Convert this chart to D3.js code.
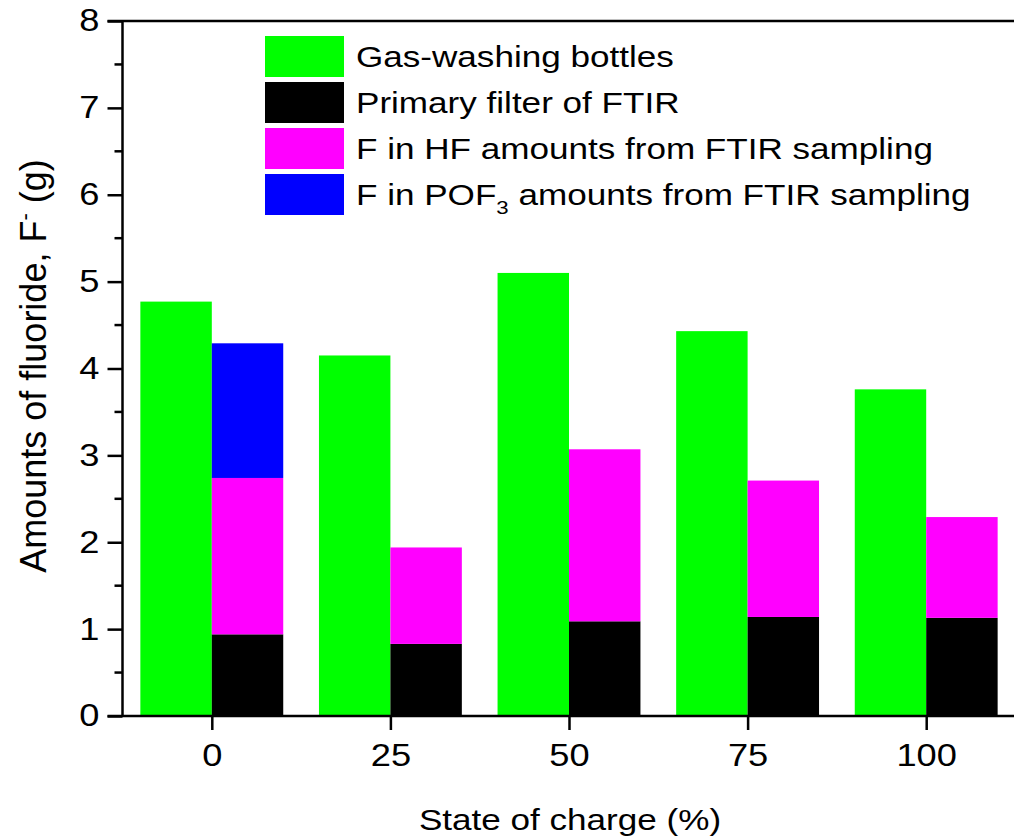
<!DOCTYPE html>
<html>
<head>
<meta charset="utf-8">
<script src="https://cdn.jsdelivr.net/npm/d3@7"></script>
<style>
  html, body { margin: 0; padding: 0; background: #fff; }
  svg { display: block; }
  text { font-family: "Liberation Sans", Arial, sans-serif; fill: #000; }
</style>
</head>
<body>
<svg id="chart" width="1014" height="836"></svg>
<script>
// State of charge (%) for each test
const stateOfCharge = [0, 25, 50, 75, 100];

// Fluoride amounts (g)
const gasWashing = [4.77, 4.15, 5.10, 4.43, 3.76];
const primaryFilter = [0.94, 0.83, 1.09, 1.14, 1.13];
const hfSampling = [1.80, 1.11, 1.98, 1.57, 1.16];
const pof3Sampling = [1.55, 0, 0, 0, 0];

const seriesNames = [
  "Gas-washing bottles",
  "Primary filter of FTIR",
  "F in HF amounts from FTIR sampling",
  "F in POF3 amounts from FTIR sampling"
];
const seriesColors = ["#00ff00", "#000000", "#ff00ff", "#0000ff"];

const yTicks = [0, 1, 2, 3, 4, 5, 6, 7, 8];
const yMinorTicks = [0.5, 1.5, 2.5, 3.5, 4.5, 5.5, 6.5, 7.5];
const xTicks = [0, 25, 50, 75, 100];

const barWidthUnits = 10;
const textStretch = 1.17;   // horizontal widening of the label lettering

const svg = d3.select("#chart");

const x = d3.scaleLinear().domain([-12.5, 112.5]).range([122.5, 1015.5]);
const y = d3.scaleLinear().domain([0, 8]).range([716, 21]);

// Stacked right-hand bars: filter, HF, POF3
const stackRows = stateOfCharge.map((s, i) => ({
  soc: s,
  filter: primaryFilter[i],
  hf: hfSampling[i],
  pof3: pof3Sampling[i]
}));
const stack = d3.stack().keys(["filter", "hf", "pof3"])(stackRows);
const stackColors = { filter: seriesColors[1], hf: seriesColors[2], pof3: seriesColors[3] };

const plot = svg.append("g");

// Gas-washing bottle bars (left of each tick)
plot.selectAll("rect.gas")
  .data(stateOfCharge)
  .join("rect")
  .attr("class", "gas")
  .attr("x", d => x(d - barWidthUnits))
  .attr("width", d => x(d) - x(d - barWidthUnits))
  .attr("y", (d, i) => y(gasWashing[i]))
  .attr("height", (d, i) => y(0) - y(gasWashing[i]))
  .attr("fill", seriesColors[0]);

// FTIR stacked bars (right of each tick)
stack.forEach(layer => {
  plot.selectAll(null)
    .data(layer.filter(d => d[1] - d[0] > 0))
    .join("rect")
    .attr("x", d => x(d.data.soc))
    .attr("width", d => x(d.data.soc + barWidthUnits) - x(d.data.soc))
    .attr("y", d => y(d[1]))
    .attr("height", d => y(d[0]) - y(d[1]))
    .attr("fill", stackColors[layer.key]);
});

// Axes
const axisStroke = 2.5;
const yAxis = svg.append("g")
  .attr("transform", `translate(${x(-12.5)},0)`)
  .call(d3.axisLeft(y).tickValues(yTicks).tickSize(15).tickPadding(8).tickFormat(d3.format("d")));
yAxis.append("g").selectAll("line")
  .data(yMinorTicks)
  .join("line")
  .attr("x1", -8).attr("x2", 0)
  .attr("y1", d => y(d)).attr("y2", d => y(d))
  .attr("stroke", "#000").attr("stroke-width", axisStroke);

const xAxis = svg.append("g")
  .attr("transform", `translate(0,${y(0)})`)
  .call(d3.axisBottom(x).tickValues(xTicks).tickSize(14).tickPadding(14).tickFormat(d3.format("d")));

[yAxis, xAxis].forEach(g => {
  g.select(".domain").remove();
  g.selectAll(".tick line").attr("stroke", "#000").attr("stroke-width", axisStroke);
  g.selectAll(".tick text")
    .attr("font-size", 31)
    .attr("font-family", "Liberation Sans, Arial, sans-serif")
    .attr("fill", "#000")
    .each(function () {
      const t = d3.select(this);
      const tx = +t.attr("x") || 0;
      t.attr("x", 0).attr("transform", `translate(${tx},0) scale(${textStretch},1)`);
    });
});

// Frame lines: left, bottom and top
svg.append("line")
  .attr("x1", x(-12.5)).attr("x2", x(-12.5))
  .attr("y1", y(8)).attr("y2", y(0))
  .attr("stroke", "#000").attr("stroke-width", axisStroke);
svg.append("line")
  .attr("x1", x(-12.5) - 15).attr("x2", x(112.5))
  .attr("y1", y(0)).attr("y2", y(0))
  .attr("stroke", "#000").attr("stroke-width", axisStroke);
svg.append("line")
  .attr("x1", x(-12.5) - 15).attr("x2", x(112.5))
  .attr("y1", y(8)).attr("y2", y(8))
  .attr("stroke", "#000").attr("stroke-width", axisStroke);

// Axis titles
svg.append("text")
  .attr("transform", `translate(570,830) scale(${textStretch},1)`)
  .attr("text-anchor", "middle")
  .attr("font-size", 30)
  .text("State of charge (%)");

const yTitle = svg.append("text")
  .attr("transform", "translate(46,366) rotate(-90)")
  .attr("text-anchor", "middle")
  .attr("font-size", 36);
yTitle.append("tspan").text("Amounts of fluoride, F");
yTitle.append("tspan").attr("font-size", 22).attr("dy", -14).text("-");
yTitle.append("tspan").attr("dy", 14).text(" (g)");

// Legend
const legend = svg.append("g").attr("transform", "translate(265,36)");
const rowGap = 46;
seriesNames.forEach((name, i) => {
  const row = legend.append("g").attr("transform", `translate(0,${i * rowGap})`);
  row.append("rect")
    .attr("width", 79).attr("height", 41)
    .attr("fill", seriesColors[i]);
  const t = row.append("text")
    .attr("transform", `translate(91,31) scale(${textStretch},1)`)
    .attr("font-size", 30);
  if (name.includes("POF3")) {
    t.append("tspan").text("F in POF");
    t.append("tspan").attr("font-size", 19).attr("dy", 9).text("3");
    t.append("tspan").attr("dy", -9).text(" amounts from FTIR sampling");
  } else {
    t.text(name);
  }
});
</script>
</body>
</html>
